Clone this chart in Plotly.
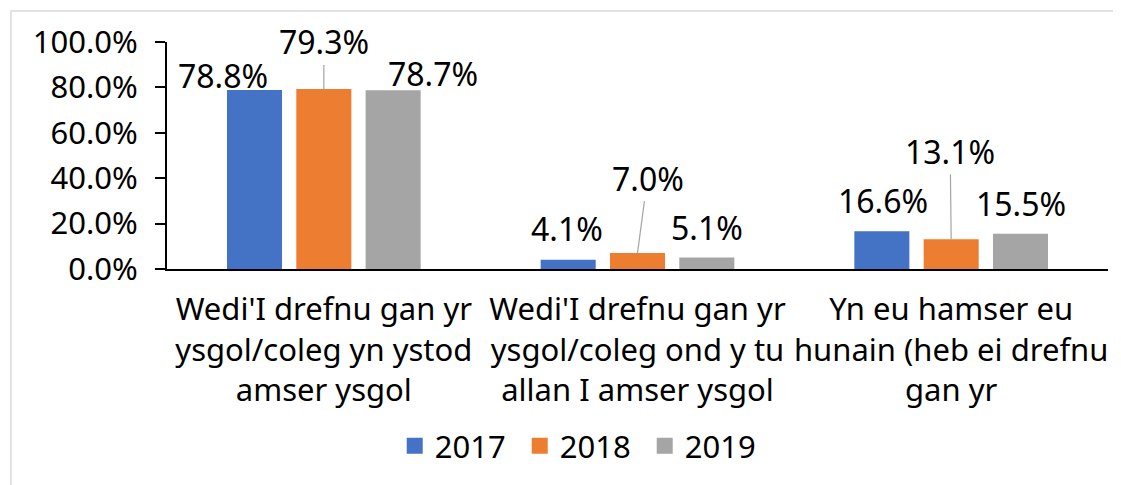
import plotly.graph_objects as go

# ---- data ----
categories = [
    "Wedi'I drefnu gan yr<br>ysgol/coleg yn ystod<br>amser ysgol",
    "Wedi'I drefnu gan yr<br>ysgol/coleg ond y tu<br>allan I amser ysgol",
    "Yn eu hamser eu<br>hunain (heb ei drefnu<br>gan yr",
]
years = ["2017", "2018", "2019"]
v2017 = [78.8, 4.1, 16.6]
v2018 = [79.3, 7.0, 13.1]
v2019 = [78.7, 5.1, 15.5]
y_ticks = [0, 20, 40, 60, 80, 100]

series = [v2017, v2018, v2019]
colors = ["#4472C4", "#ED7D31", "#A5A5A5"]

# ---- label placement (pixel offsets of each label from its bar top) ----
label_dx = [[-32, -1, 1], [0, 10, -1], [40, 0, 1]]
label_dy = [[-15, -31, -31], [-47, -75, -88], [-17, -30, -30]]
leader = [[False, False, False], [True, True, True], [False, False, False]]

FONT = "Noto Sans"
FS = 31
FS_LABEL = 32
BARGAP = 0.337
BARGROUPGAP = 0.206
slot = (1 - BARGAP) / len(series)

fig = go.Figure()
for j, (name, vals, col) in enumerate(zip(years, series, colors)):
    fig.add_trace(go.Bar(
        x=list(range(len(categories))), y=vals, name=name,
        marker=dict(color=col, line=dict(width=0)),
        showlegend=False, hoverinfo="skip",
    ))
    fig.add_trace(go.Scatter(
        x=[None], y=[None], name=name, mode="markers",
        marker=dict(symbol="square", size=18, color=col),
        showlegend=True,
    ))

annotations = []
for j, vals in enumerate(series):
    for i, v in enumerate(vals):
        annotations.append(dict(
            x=i + (j - 1) * slot, y=v, xref="x", yref="y",
            text=f"{v:.1f}%",
            showarrow=True, arrowhead=0, arrowwidth=1.2,
            arrowcolor="#A5A5A5" if leader[j][i] else "rgba(0,0,0,0)",
            ax=label_dx[j][i], ay=label_dy[j][i],
            font=dict(family=FONT, size=FS_LABEL, color="#000000"),
        ))

# the page body adds an 8px offset, so the figure is 8px smaller each way
fig.update_layout(
    width=1113, height=477,
    margin=dict(l=159, r=13, t=34, b=216),
    paper_bgcolor="white", plot_bgcolor="white",
    barmode="group", bargap=BARGAP, bargroupgap=BARGROUPGAP,
    font=dict(family=FONT, size=FS, color="#000000"),
    annotations=annotations,
    legend=dict(
        orientation="h", x=0.242, xanchor="left", y=-0.78, yanchor="middle",
        font=dict(family=FONT, size=FS, color="#000000"),
        itemsizing="trace", entrywidth=80, traceorder="normal",
    ),
    shapes=[dict(
        type="rect", xref="paper", yref="paper",
        x0=(11 - 167) / 941, x1=1.05, y0=-1.1, y1=(269 - 11) / 227,
        line=dict(color="#D9D9D9", width=1.5), fillcolor="rgba(0,0,0,0)",
        layer="below",
    )],
    xaxis=dict(
        tickmode="array", tickvals=list(range(len(categories))), ticktext=categories,
        range=[-0.5, len(categories) - 0.5],
        showline=True, linecolor="#000000", linewidth=2,
        ticks="", showgrid=False, zeroline=False,
        ticklabelstandoff=12,
        tickfont=dict(family=FONT, size=FS, color="#000000"),
    ),
    yaxis=dict(
        range=[0, 100], tickvals=y_ticks, ticktext=[f"{t:.1f}%" for t in y_ticks],
        showline=True, linecolor="#000000", linewidth=2,
        ticks="outside", ticklen=10, tickwidth=2, tickcolor="#000000",
        ticklabelstandoff=11,
        showgrid=False, zeroline=False,
        tickfont=dict(family=FONT, size=FS, color="#000000"),
    ),
)

fig.write_html("out.html")
